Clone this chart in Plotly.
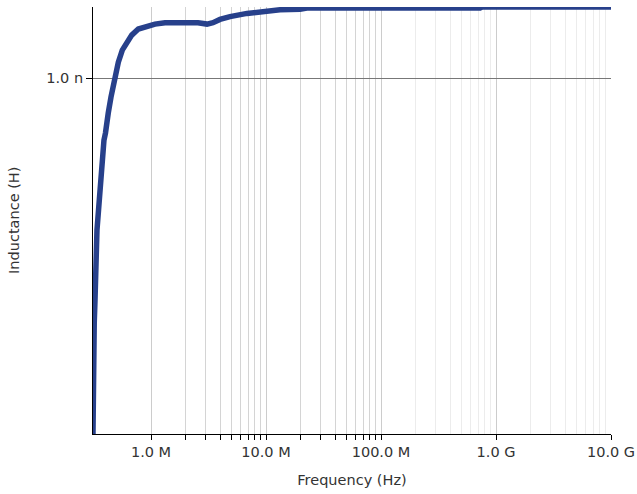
import plotly.graph_objects as go

# Frequency (Hz) and inductance (H)
freq_hz = [3.13e5, 3.13e5, 3.21e5, 3.21e5, 3.26e5, 3.29e5, 3.39e5, 3.50e5, 3.57e5,
           3.64e5, 3.71e5, 3.79e5, 3.90e5, 4.02e5, 4.06e5, 4.25e5, 4.49e5, 4.80e5,
           5.20e5, 5.63e5, 6.15e5, 6.80e5, 7.76e5, 9.18e5, 1.083e6, 1.323e6, 1.788e6,
           2.563e6, 3.069e6, 3.461e6, 3.981e6, 4.864e6, 6.835e6, 9.417e6, 1.323e7,
           1.976e7, 2.272e7, 7.26e8, 7.56e8, 1.0e10]
inductance_nh = [0.000, 0.174, 0.174, 0.312, 0.377, 0.495, 0.573, 0.630, 0.672,
                 0.719, 0.762, 0.798, 0.826, 0.846, 0.860, 0.902, 0.947, 1.000,
                 1.045, 1.079, 1.102, 1.121, 1.138, 1.147, 1.152, 1.156, 1.156,
                 1.156, 1.152, 1.156, 1.165, 1.173, 1.182, 1.187, 1.192,
                 1.194, 1.197, 1.197, 1.2, 1.2]
inductance_h = [v * 1e-9 for v in inductance_nh]

x_major_vals = [1e6, 1e7, 1e8, 1e9, 1e10]
x_major_text = ["1.0 M", "10.0 M", "100.0 M", "1.0 G", "10.0 G"]
x_minor_dark = [m * d for d in (1e6, 1e7) for m in range(2, 10)]
x_minor_light = [m * d for d in (1e8, 1e9) for m in range(2, 10)]
y_tick_vals = [1e-9]
y_tick_text = ["1.0 n"]

FONT = "DejaVu Sans"
TXT = "#333333"
FS = 14.5

fig = go.Figure()
fig.add_trace(go.Scatter(
    x=freq_hz, y=inductance_h, mode="lines",
    line=dict(color="#27408b", width=5.5),
    cliponaxis=False, showlegend=False, hoverinfo="skip",
))
# invisible trace on overlay axis so it renders
fig.add_trace(go.Scatter(x=[freq_hz[0]], y=[inductance_h[0]], xaxis="x2",
                         mode="markers", marker=dict(opacity=0), showlegend=False,
                         hoverinfo="skip"))

xr = [5.4957, 10.0]
fig.update_layout(
    width=637, height=494,
    margin=dict(l=93, r=26, t=7, b=60),
    paper_bgcolor="white", plot_bgcolor="white",
    font=dict(family=FONT, size=FS, color=TXT),
    xaxis=dict(
        type="log", range=xr, automargin=False,
        tickvals=x_major_vals, ticktext=x_major_text,
        ticks="outside", ticklen=5, tickcolor="#000000",
        showgrid=True, gridcolor="#cccccc", gridwidth=1,
        showline=True, linecolor="#000000", linewidth=1,
        zeroline=False,
        minor=dict(tickmode="array", tickvals=x_minor_dark, ticks="outside",
                   ticklen=5, tickcolor="#000000", showgrid=True,
                   gridcolor="#d4d4d4", gridwidth=1),
        title=dict(text="Frequency (Hz)", font=dict(size=FS, color=TXT), standoff=15),
        tickfont=dict(size=FS, color=TXT),
        layer="below traces",
    ),
    xaxis2=dict(
        type="log", range=xr, overlaying="x", automargin=False,
        tickvals=[], showticklabels=False, ticks="",
        showgrid=False, zeroline=False, showline=False,
        minor=dict(tickmode="array", tickvals=x_minor_light, ticks="",
                   showgrid=True, gridcolor="#ececec", gridwidth=1),
        layer="below traces",
    ),
    yaxis=dict(
        range=[0, 1.2e-9], automargin=False,
        tickvals=y_tick_vals, ticktext=y_tick_text,
        ticks="outside", ticklen=6, tickcolor="#000000",
        showgrid=True, gridcolor="#777777", gridwidth=1,
        showline=True, linecolor="#000000", linewidth=1,
        zeroline=False,
        tickfont=dict(size=FS, color=TXT),
    ),
    annotations=[dict(
        text="Inductance (H)", textangle=-90,
        xref="paper", yref="paper", x=-0.1525, y=0.499,
        xanchor="center", yanchor="middle", showarrow=False,
        font=dict(size=FS, color=TXT, family=FONT),
    )],
)

fig.write_html("out.html", config={"displayModeBar": False},
               post_script="document.body.style.margin='0';document.body.style.padding='0';")
